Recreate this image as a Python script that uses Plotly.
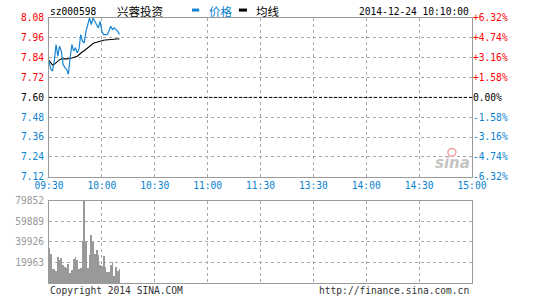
import plotly.graph_objects as go

# ---------------- data ----------------
stock_code = "sz000598"
stock_name = "兴蓉投资"
timestamp = "2014-12-24 10:10:00"
prev_close = 7.60

times = ["09:30", "09:31", "09:32", "09:33", "09:34", "09:35", "09:36", "09:37", "09:38", "09:39",
         "09:40", "09:41", "09:42", "09:43", "09:44", "09:45", "09:46", "09:47", "09:48", "09:49",
         "09:50", "09:51", "09:52", "09:53", "09:54", "09:55", "09:56", "09:57", "09:58", "09:59",
         "10:00", "10:01", "10:02", "10:03", "10:04", "10:05", "10:06", "10:07", "10:08", "10:09",
         "10:10"]

prices = [7.82, 7.77, 7.76, 7.82, 7.92, 7.85, 7.91, 7.88, 7.80, 7.78,
          7.77, 7.74, 7.84, 7.92, 7.88, 7.90, 7.87, 7.89, 7.98, 7.94,
          7.93, 8.00, 8.04, 8.08, 8.04, 8.08, 8.06, 8.04, 8.02, 8.06,
          8.00, 7.98, 7.98, 7.98, 8.00, 8.03, 8.01, 8.02, 8.01, 8.00,
          7.98]

avg_prices = [7.824, 7.805, 7.795, 7.800, 7.810, 7.820, 7.828, 7.832, 7.834, 7.834,
              7.833, 7.833, 7.835, 7.838, 7.841, 7.844, 7.848, 7.858, 7.870, 7.876,
              7.882, 7.892, 7.902, 7.912, 7.920, 7.926, 7.930, 7.934, 7.938, 7.941,
              7.944, 7.946, 7.947, 7.948, 7.949, 7.950, 7.951, 7.952, 7.953, 7.954,
              7.955]

volumes = [34300, 28900, 14400, 14400, 12000, 25600, 23000, 24500, 18300, 16000,
           15100, 19200, 9600, 12800, 24000, 25600, 23000, 14400, 15100, 41000,
           79852, 40100, 15100, 27900, 46500, 40100, 28900, 32000, 27200, 17600,
           17000, 26600, 16000, 11200, 10900, 18300, 20800, 7400, 16000, 11800,
           14400]

x_tick_labels = ["09:30", "10:00", "10:30", "11:00", "11:30", "13:30", "14:00", "14:30", "15:00"]
price_ticks = [7.12, 7.24, 7.36, 7.48, 7.60, 7.72, 7.84, 7.96, 8.08]
vol_ticks = [19963, 39926, 59889, 79852]

# ---------------- helpers ----------------
BLUE = "#0a82d0"
LINE_BLUE = "#1684d4"
RED = "#ff0000"
GRID = "#a8a8a8"
BORDER = "#9a9a9a"
MONO = "DejaVu Sans Mono"
CJK = "Noto Sans CJK SC"
FS = 9.6


def minute_pos(t):
    h, m = map(int, t.split(":"))
    mins = h * 60 + m
    if mins <= 11 * 60 + 30:
        return mins - (9 * 60 + 30)
    return mins - 13 * 60 + 120


xs = [minute_pos(t) for t in times]
x_tick_pos = [minute_pos(t) for t in x_tick_labels]


def color_for(v):
    if abs(v - prev_close) < 1e-9:
        return "#000000"
    return RED if v > prev_close else BLUE


price_text = ['<span style="color:%s">%.2f</span>' % (color_for(p), p) for p in price_ticks]
pct_ticks = [(p / prev_close - 1) * 100 for p in price_ticks]
pct_text = []
for p, v in zip(price_ticks, pct_ticks):
    s = "%+.2f%%" % v if abs(v) > 1e-9 else "0.00%"
    pct_text.append('<span style="color:%s">%s</span>' % (color_for(p), s))
pct_series = [(p / prev_close - 1) * 100 for p in prices]

fig = go.Figure()
fig.add_trace(go.Scatter(x=xs, y=avg_prices, mode="lines", line=dict(color="#000000", width=1.1),
                         xaxis="x", yaxis="y", hoverinfo="skip"))
fig.add_trace(go.Scatter(x=xs, y=prices, mode="lines", line=dict(color=LINE_BLUE, width=1.2),
                         xaxis="x", yaxis="y", hoverinfo="skip"))
fig.add_trace(go.Scatter(x=xs, y=pct_series, mode="lines", line=dict(color="rgba(0,0,0,0)", width=0),
                         xaxis="x", yaxis="y3", hoverinfo="skip"))
fig.add_trace(go.Bar(x=xs, y=volumes, marker=dict(color="#999999", line=dict(width=0)), width=0.5,
                     xaxis="x2", yaxis="y2", hoverinfo="skip"))

axis_common = dict(showline=True, mirror=True, linecolor=BORDER, linewidth=1, zeroline=False,
                   showgrid=True, gridcolor=GRID, griddash="dot", gridwidth=1, ticks="")

fig.update_layout(
    width=545, height=300,
    margin=dict(l=49, r=73, t=18, b=15),
    paper_bgcolor="white", plot_bgcolor="white",
    showlegend=False, hovermode=False, bargap=0,
    xaxis=dict(domain=[0, 1], range=[0, 240], anchor="y", tickvals=x_tick_pos, ticktext=x_tick_labels,
               tickfont=dict(family=MONO, size=FS, color=BLUE), **axis_common),
    yaxis=dict(domain=[0.4007, 1], range=[price_ticks[0], price_ticks[-1]], anchor="x",
               tickvals=price_ticks, ticktext=price_text, ticklabelstandoff=2,
               tickfont=dict(family=MONO, size=FS), **axis_common),
    yaxis3=dict(overlaying="y", side="right", anchor="x", range=[pct_ticks[0], pct_ticks[-1]],
                tickvals=pct_ticks, ticktext=pct_text, showgrid=False, zeroline=False, showline=False,
                ticks="", tickfont=dict(family=MONO, size=FS)),
    xaxis2=dict(domain=[0, 1], range=[0, 240], anchor="y2", tickvals=x_tick_pos, showticklabels=False,
                **axis_common),
    yaxis2=dict(domain=[0, 0.3109], range=[0, vol_ticks[-1]], anchor="x2", tickvals=vol_ticks,
                ticktext=[str(v) for v in vol_ticks], ticklabelstandoff=2,
                tickfont=dict(family=MONO, size=FS, color="#999999"), **axis_common),
)

shapes = [
    dict(type="line", xref="x", yref="y", x0=0, x1=240, y0=prev_close, y1=prev_close,
         line=dict(color="#000000", width=1, dash="3px,2px")),
    dict(type="rect", xref="paper", yref="paper", x0=0.338, x1=0.355, y0=1.0243, y1=1.0356,
         fillcolor=LINE_BLUE, line=dict(width=0)),
    dict(type="rect", xref="paper", yref="paper", x0=0.449, x1=0.468, y0=1.0243, y1=1.0356,
         fillcolor="#000000", line=dict(width=0)),
    dict(type="circle", xref="paper", yref="paper", x0=0.943, x1=0.962, y0=0.478, y1=0.508,
         line=dict(color="#f2a0a0", width=1.5)),
]
fig.update_layout(shapes=shapes)

ann = [
    dict(text=stock_code, x=-0.002, y=1.026, xanchor="left", font=dict(family=MONO, size=FS, color="#000")),
    dict(text=stock_name, x=0.156, y=1.026, xanchor="left", font=dict(family=CJK, size=11.5, color="#000")),
    dict(text="价格", x=0.3735, y=1.026, xanchor="left", font=dict(family=CJK, size=11.5, color=BLUE)),
    dict(text="均线", x=0.4846, y=1.026, xanchor="left", font=dict(family=CJK, size=11.5, color="#000")),
    dict(text=timestamp, x=0.9976, y=1.026, xanchor="right", font=dict(family=MONO, size=FS, color="#000")),
    dict(text="Copyright 2014 SINA.COM", x=-0.002, y=-0.030, xanchor="left",
         font=dict(family=MONO, size=FS, color="#333")),
    dict(text="http://finance.sina.com.cn", x=0.9976, y=-0.030, xanchor="right",
         font=dict(family=MONO, size=FS, color="#333")),
    dict(text="<b><i>sina</i></b>", x=0.955, y=0.452, xanchor="center",
         font=dict(family="DejaVu Sans", size=15, color="#c4c4c4")),
]
for a in ann:
    a.update(xref="paper", yref="paper", yanchor="middle", showarrow=False)
fig.update_layout(annotations=ann)

fig.write_html("out.html")
